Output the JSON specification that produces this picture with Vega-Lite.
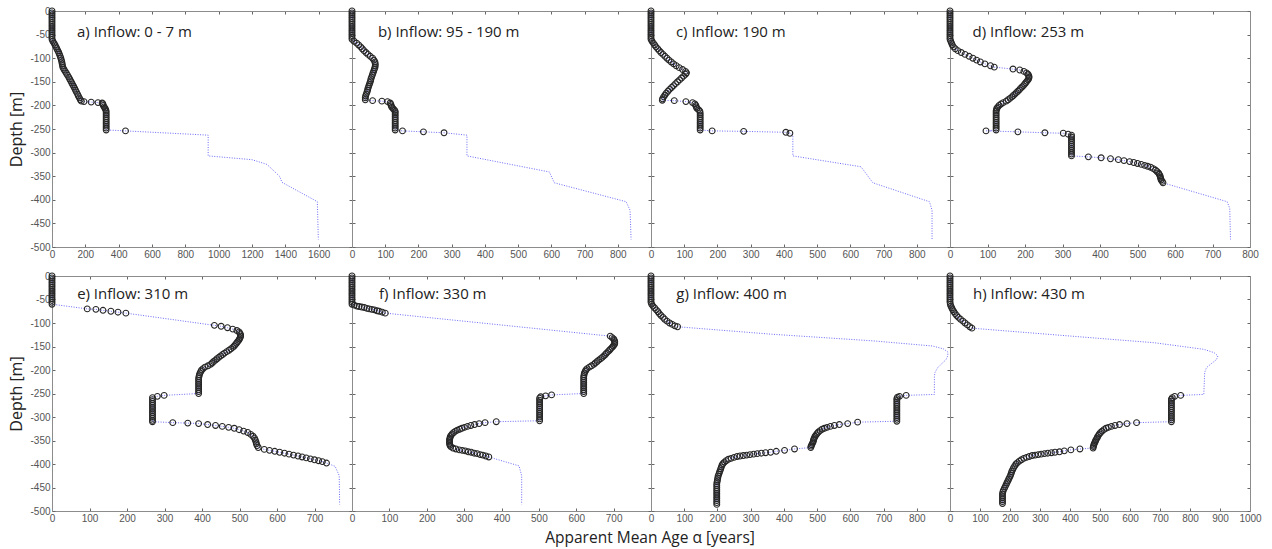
{
"$schema": "https://vega.github.io/schema/vega-lite/v6.json",
"background": "white",
"padding": {"left": 8, "top": 5, "right": 5, "bottom": 4},
"title": {"text": "Apparent Mean Age α [years]", "orient": "bottom", "anchor": "middle", "font": "Open Sans", "fontSize": 15.5, "fontWeight": "normal", "color": "#222", "offset": 8, "dx": 15},
"config": {
  "view": {"stroke": null},
  "axis": {"grid": false, "domainColor": "#8c8c8c", "tickColor": "#666", "labelColor": "#555", "labelFont": "Liberation Sans", "labelFontSize": 10, "tickSize": -3, "labelPadding": 5, "labelFlush": false, "labelOverlap": false, "titleFont": "Open Sans", "titleFontSize": 16, "titleFontWeight": "normal", "titleColor": "#222", "titlePadding": 5}
},
"datasets": {
"a": [{"d":0,"v":0,"o":1},{"d":-4,"v":0,"o":1},{"d":-8,"v":0,"o":1},{"d":-12,"v":0,"o":1},{"d":-16,"v":0,"o":1},{"d":-20,"v":0,"o":1},{"d":-24,"v":0,"o":1},{"d":-28,"v":0,"o":1},{"d":-32,"v":0,"o":1},{"d":-36,"v":0,"o":1},{"d":-40,"v":0,"o":1},{"d":-44,"v":0,"o":1},{"d":-48,"v":0,"o":1},{"d":-52,"v":0,"o":1},{"d":-56,"v":0,"o":1},{"d":-60,"v":0,"o":1},
{"d":-64,"v":5,"o":1},{"d":-68,"v":12,"o":1},{"d":-72,"v":18,"o":1},{"d":-76,"v":24,"o":1},{"d":-80,"v":29,"o":1},{"d":-84,"v":35,"o":1},{"d":-88,"v":40,"o":1},{"d":-92,"v":45,"o":1},{"d":-96,"v":49,"o":1},{"d":-100,"v":53,"o":1},{"d":-104,"v":56,"o":1},{"d":-108,"v":59,"o":1},{"d":-112,"v":61,"o":1},{"d":-116,"v":63,"o":1},{"d":-120,"v":66,"o":1},{"d":-124,"v":72,"o":1},{"d":-128,"v":79,"o":1},{"d":-132,"v":86,"o":1},{"d":-136,"v":93,"o":1},{"d":-140,"v":100,"o":1},{"d":-144,"v":106,"o":1},{"d":-148,"v":112,"o":1},{"d":-152,"v":118,"o":1},{"d":-156,"v":124,"o":1},{"d":-160,"v":130,"o":1},{"d":-164,"v":136,"o":1},{"d":-168,"v":141,"o":1},{"d":-172,"v":147,"o":1},{"d":-176,"v":153,"o":1},{"d":-180,"v":158,"o":1},{"d":-184,"v":164,"o":1},{"d":-188,"v":170,"o":1},{"d":-191,"v":176,"o":1},
{"d":-192,"v":192,"o":1},{"d":-193,"v":235,"o":1},{"d":-194,"v":276,"o":1},{"d":-195,"v":301,"o":1},{"d":-197,"v":305,"o":1},{"d":-200,"v":308,"o":1},{"d":-203,"v":312,"o":1},{"d":-206,"v":318,"o":1},{"d":-209,"v":322,"o":1},{"d":-212,"v":325,"o":1},{"d":-216,"v":325,"o":1},{"d":-220,"v":325,"o":1},{"d":-224,"v":325,"o":1},{"d":-228,"v":325,"o":1},{"d":-232,"v":325,"o":1},{"d":-236,"v":325,"o":1},{"d":-240,"v":325,"o":1},{"d":-244,"v":325,"o":1},{"d":-248,"v":325,"o":1},{"d":-252,"v":325,"o":1},{"d":-254,"v":441,"o":1},
{"d":-263,"v":937,"o":0},{"d":-307,"v":937,"o":0},{"d":-315,"v":1200,"o":0},{"d":-325,"v":1290,"o":0},{"d":-340,"v":1335,"o":0},{"d":-350,"v":1365,"o":0},{"d":-363,"v":1380,"o":0},{"d":-404,"v":1592,"o":0},{"d":-484,"v":1598,"o":0}],
"b": [{"d":0,"v":0,"o":1},{"d":-4,"v":0,"o":1},{"d":-8,"v":0,"o":1},{"d":-12,"v":0,"o":1},{"d":-16,"v":0,"o":1},{"d":-20,"v":0,"o":1},{"d":-24,"v":0,"o":1},{"d":-28,"v":0,"o":1},{"d":-32,"v":0,"o":1},{"d":-36,"v":0,"o":1},{"d":-40,"v":0,"o":1},{"d":-44,"v":0,"o":1},{"d":-48,"v":0,"o":1},{"d":-52,"v":0,"o":1},{"d":-56,"v":0,"o":1},{"d":-60,"v":0,"o":1},
{"d":-64,"v":6,"o":1},{"d":-68,"v":14,"o":1},{"d":-72,"v":20,"o":1},{"d":-76,"v":26,"o":1},{"d":-80,"v":31,"o":1},{"d":-84,"v":36,"o":1},{"d":-88,"v":42,"o":1},{"d":-92,"v":48,"o":1},{"d":-96,"v":55,"o":1},{"d":-100,"v":62,"o":1},{"d":-104,"v":66,"o":1},{"d":-108,"v":69,"o":1},{"d":-112,"v":70,"o":1},{"d":-116,"v":70,"o":1},{"d":-120,"v":69,"o":1},{"d":-124,"v":67,"o":1},{"d":-128,"v":65,"o":1},{"d":-132,"v":63,"o":1},{"d":-136,"v":61,"o":1},{"d":-140,"v":59,"o":1},{"d":-144,"v":57,"o":1},{"d":-148,"v":56,"o":1},{"d":-152,"v":54,"o":1},{"d":-156,"v":52,"o":1},{"d":-160,"v":50,"o":1},{"d":-164,"v":48,"o":1},{"d":-168,"v":47,"o":1},{"d":-172,"v":45,"o":1},{"d":-176,"v":43,"o":1},{"d":-180,"v":41,"o":1},{"d":-184,"v":40,"o":1},{"d":-188,"v":40,"o":1},
{"d":-190,"v":62,"o":1},{"d":-191,"v":90,"o":1},{"d":-192,"v":107,"o":1},{"d":-195,"v":115,"o":1},{"d":-198,"v":117,"o":1},{"d":-201,"v":118,"o":1},{"d":-204,"v":120,"o":1},{"d":-207,"v":124,"o":1},{"d":-210,"v":128,"o":1},{"d":-213,"v":130,"o":1},{"d":-216,"v":130,"o":1},{"d":-220,"v":130,"o":1},{"d":-224,"v":130,"o":1},{"d":-228,"v":130,"o":1},{"d":-232,"v":130,"o":1},{"d":-236,"v":130,"o":1},{"d":-240,"v":130,"o":1},{"d":-244,"v":130,"o":1},{"d":-248,"v":130,"o":1},{"d":-252,"v":130,"o":1},{"d":-254,"v":152,"o":1},{"d":-256,"v":215,"o":1},{"d":-258,"v":277,"o":1},
{"d":-263,"v":346,"o":0},{"d":-307,"v":346,"o":0},{"d":-341,"v":594,"o":0},{"d":-364,"v":609,"o":0},{"d":-404,"v":825,"o":0},{"d":-422,"v":837,"o":0},{"d":-484,"v":840,"o":0}],
"c": [{"d":0,"v":0,"o":1},{"d":-4,"v":0,"o":1},{"d":-8,"v":0,"o":1},{"d":-12,"v":0,"o":1},{"d":-16,"v":0,"o":1},{"d":-20,"v":0,"o":1},{"d":-24,"v":0,"o":1},{"d":-28,"v":0,"o":1},{"d":-32,"v":0,"o":1},{"d":-36,"v":0,"o":1},{"d":-40,"v":0,"o":1},{"d":-44,"v":0,"o":1},{"d":-48,"v":0,"o":1},{"d":-52,"v":0,"o":1},{"d":-56,"v":0,"o":1},{"d":-60,"v":0,"o":1},
{"d":-64,"v":3,"o":1},{"d":-68,"v":7,"o":1},{"d":-72,"v":11,"o":1},{"d":-76,"v":15,"o":1},{"d":-80,"v":20,"o":1},{"d":-84,"v":25,"o":1},{"d":-88,"v":30,"o":1},{"d":-92,"v":36,"o":1},{"d":-96,"v":42,"o":1},{"d":-100,"v":48,"o":1},{"d":-104,"v":54,"o":1},{"d":-108,"v":61,"o":1},{"d":-112,"v":68,"o":1},{"d":-116,"v":76,"o":1},{"d":-120,"v":85,"o":1},{"d":-124,"v":95,"o":1},{"d":-128,"v":104,"o":1},{"d":-131,"v":107,"o":1},{"d":-134,"v":104,"o":1},{"d":-138,"v":98,"o":1},{"d":-142,"v":92,"o":1},{"d":-146,"v":86,"o":1},{"d":-150,"v":80,"o":1},{"d":-154,"v":74,"o":1},{"d":-158,"v":68,"o":1},{"d":-162,"v":62,"o":1},{"d":-166,"v":56,"o":1},{"d":-170,"v":51,"o":1},{"d":-174,"v":46,"o":1},{"d":-178,"v":42,"o":1},{"d":-182,"v":38,"o":1},{"d":-186,"v":35,"o":1},{"d":-189,"v":34,"o":1},
{"d":-190,"v":70,"o":1},{"d":-192,"v":105,"o":1},{"d":-194,"v":125,"o":1},{"d":-197,"v":132,"o":1},{"d":-200,"v":135,"o":1},{"d":-203,"v":136,"o":1},{"d":-206,"v":138,"o":1},{"d":-209,"v":143,"o":1},{"d":-212,"v":147,"o":1},{"d":-216,"v":148,"o":1},{"d":-220,"v":148,"o":1},{"d":-224,"v":148,"o":1},{"d":-228,"v":148,"o":1},{"d":-232,"v":148,"o":1},{"d":-236,"v":148,"o":1},{"d":-240,"v":148,"o":1},{"d":-244,"v":148,"o":1},{"d":-248,"v":148,"o":1},{"d":-252,"v":148,"o":1},{"d":-254,"v":184,"o":1},{"d":-255,"v":279,"o":1},{"d":-257,"v":406,"o":1},{"d":-259,"v":418,"o":1},
{"d":-263,"v":427,"o":0},{"d":-307,"v":427,"o":0},{"d":-330,"v":632,"o":0},{"d":-364,"v":668,"o":0},{"d":-404,"v":838,"o":0},{"d":-422,"v":846,"o":0},{"d":-484,"v":846,"o":0}],
"d": [{"d":0,"v":0,"o":1},{"d":-4,"v":0,"o":1},{"d":-8,"v":0,"o":1},{"d":-12,"v":0,"o":1},{"d":-16,"v":0,"o":1},{"d":-20,"v":0,"o":1},{"d":-24,"v":0,"o":1},{"d":-28,"v":0,"o":1},{"d":-32,"v":0,"o":1},{"d":-36,"v":0,"o":1},{"d":-40,"v":0,"o":1},{"d":-44,"v":0,"o":1},{"d":-48,"v":0,"o":1},{"d":-52,"v":0,"o":1},{"d":-56,"v":0,"o":1},{"d":-60,"v":0,"o":1},
{"d":-64,"v":2,"o":1},{"d":-68,"v":4,"o":1},{"d":-72,"v":6,"o":1},{"d":-76,"v":9,"o":1},{"d":-80,"v":14,"o":1},{"d":-84,"v":21,"o":1},{"d":-88,"v":30,"o":1},{"d":-92,"v":40,"o":1},{"d":-96,"v":51,"o":1},{"d":-100,"v":61,"o":1},{"d":-104,"v":71,"o":1},{"d":-108,"v":81,"o":1},{"d":-112,"v":93,"o":1},{"d":-116,"v":108,"o":1},{"d":-119,"v":118,"o":1},{"d":-123,"v":168,"o":1},{"d":-125,"v":186,"o":1},{"d":-128,"v":197,"o":1},{"d":-131,"v":204,"o":1},{"d":-134,"v":208,"o":1},{"d":-137,"v":210,"o":1},{"d":-140,"v":211,"o":1},{"d":-143,"v":210,"o":1},{"d":-146,"v":208,"o":1},{"d":-149,"v":205,"o":1},{"d":-152,"v":202,"o":1},{"d":-155,"v":199,"o":1},{"d":-158,"v":196,"o":1},{"d":-161,"v":192,"o":1},{"d":-164,"v":188,"o":1},{"d":-167,"v":185,"o":1},{"d":-170,"v":181,"o":1},{"d":-173,"v":177,"o":1},{"d":-176,"v":173,"o":1},{"d":-179,"v":169,"o":1},{"d":-182,"v":165,"o":1},{"d":-185,"v":160,"o":1},{"d":-188,"v":155,"o":1},{"d":-191,"v":150,"o":1},{"d":-194,"v":142,"o":1},{"d":-197,"v":136,"o":1},{"d":-200,"v":131,"o":1},{"d":-203,"v":128,"o":1},{"d":-206,"v":125,"o":1},{"d":-209,"v":124,"o":1},{"d":-212,"v":123,"o":1},{"d":-216,"v":123,"o":1},{"d":-220,"v":123,"o":1},{"d":-224,"v":123,"o":1},{"d":-228,"v":123,"o":1},{"d":-232,"v":123,"o":1},{"d":-236,"v":123,"o":1},{"d":-240,"v":123,"o":1},{"d":-244,"v":123,"o":1},{"d":-248,"v":123,"o":1},{"d":-252,"v":123,"o":1},
{"d":-254,"v":96,"o":1},{"d":-256,"v":181,"o":1},{"d":-258,"v":253,"o":1},{"d":-259,"v":302,"o":1},{"d":-261,"v":315,"o":1},{"d":-263,"v":324,"o":1},{"d":-267,"v":324,"o":1},{"d":-271,"v":324,"o":1},{"d":-275,"v":324,"o":1},{"d":-279,"v":324,"o":1},{"d":-283,"v":324,"o":1},{"d":-287,"v":324,"o":1},{"d":-291,"v":324,"o":1},{"d":-295,"v":324,"o":1},{"d":-299,"v":324,"o":1},{"d":-303,"v":324,"o":1},{"d":-307,"v":324,"o":1},
{"d":-309,"v":369,"o":1},{"d":-311,"v":403,"o":1},{"d":-313,"v":428,"o":1},{"d":-315,"v":449,"o":1},{"d":-317,"v":464,"o":1},{"d":-319,"v":479,"o":1},{"d":-321,"v":490,"o":1},{"d":-323,"v":500,"o":1},{"d":-325,"v":510,"o":1},{"d":-327,"v":519,"o":1},{"d":-329,"v":527,"o":1},{"d":-331,"v":535,"o":1},{"d":-334,"v":542,"o":1},{"d":-337,"v":548,"o":1},{"d":-340,"v":552,"o":1},{"d":-343,"v":556,"o":1},{"d":-346,"v":558,"o":1},{"d":-349,"v":560,"o":1},{"d":-352,"v":561,"o":1},{"d":-355,"v":562,"o":1},{"d":-358,"v":563,"o":1},{"d":-361,"v":566,"o":1},{"d":-364,"v":568,"o":1},
{"d":-404,"v":739,"o":0},{"d":-418,"v":746,"o":0},{"d":-484,"v":748,"o":0}],
"e": [{"d":0,"v":0,"o":1},{"d":-4,"v":0,"o":1},{"d":-8,"v":0,"o":1},{"d":-12,"v":0,"o":1},{"d":-16,"v":0,"o":1},{"d":-20,"v":0,"o":1},{"d":-24,"v":0,"o":1},{"d":-28,"v":0,"o":1},{"d":-32,"v":0,"o":1},{"d":-36,"v":0,"o":1},{"d":-40,"v":0,"o":1},{"d":-44,"v":0,"o":1},{"d":-48,"v":0,"o":1},{"d":-52,"v":0,"o":1},{"d":-56,"v":0,"o":1},{"d":-60,"v":0,"o":1},
{"d":-70,"v":94,"o":1},{"d":-71,"v":117,"o":1},{"d":-73,"v":136,"o":1},{"d":-75,"v":157,"o":1},{"d":-77,"v":176,"o":1},{"d":-79,"v":197,"o":1},
{"d":-105,"v":433,"o":1},{"d":-107,"v":451,"o":1},{"d":-110,"v":468,"o":1},{"d":-113,"v":482,"o":1},{"d":-116,"v":493,"o":1},{"d":-119,"v":499,"o":1},{"d":-122,"v":501,"o":1},{"d":-125,"v":503,"o":1},{"d":-128,"v":503,"o":1},{"d":-131,"v":502,"o":1},{"d":-134,"v":500,"o":1},{"d":-137,"v":498,"o":1},{"d":-140,"v":495,"o":1},{"d":-143,"v":492,"o":1},{"d":-146,"v":489,"o":1},{"d":-149,"v":486,"o":1},{"d":-152,"v":482,"o":1},{"d":-155,"v":477,"o":1},{"d":-158,"v":472,"o":1},{"d":-161,"v":466,"o":1},{"d":-164,"v":460,"o":1},{"d":-167,"v":455,"o":1},{"d":-170,"v":450,"o":1},{"d":-173,"v":445,"o":1},{"d":-176,"v":440,"o":1},{"d":-179,"v":436,"o":1},{"d":-182,"v":431,"o":1},{"d":-185,"v":427,"o":1},{"d":-188,"v":423,"o":1},{"d":-191,"v":416,"o":1},{"d":-194,"v":408,"o":1},{"d":-197,"v":403,"o":1},{"d":-200,"v":399,"o":1},{"d":-203,"v":397,"o":1},{"d":-206,"v":395,"o":1},{"d":-210,"v":393,"o":1},{"d":-214,"v":392,"o":1},{"d":-218,"v":391,"o":1},{"d":-222,"v":391,"o":1},{"d":-226,"v":391,"o":1},{"d":-230,"v":391,"o":1},{"d":-234,"v":391,"o":1},{"d":-238,"v":391,"o":1},{"d":-242,"v":391,"o":1},{"d":-246,"v":391,"o":1},{"d":-250,"v":391,"o":1},
{"d":-254,"v":299,"o":1},{"d":-256,"v":281,"o":1},{"d":-259,"v":268,"o":1},{"d":-263,"v":268,"o":1},{"d":-267,"v":268,"o":1},{"d":-271,"v":268,"o":1},{"d":-275,"v":268,"o":1},{"d":-279,"v":268,"o":1},{"d":-283,"v":268,"o":1},{"d":-287,"v":268,"o":1},{"d":-291,"v":268,"o":1},{"d":-295,"v":268,"o":1},{"d":-299,"v":268,"o":1},{"d":-303,"v":268,"o":1},{"d":-307,"v":268,"o":1},{"d":-310,"v":268,"o":1},
{"d":-312,"v":322,"o":1},{"d":-313,"v":362,"o":1},{"d":-314,"v":391,"o":1},{"d":-316,"v":415,"o":1},{"d":-318,"v":436,"o":1},{"d":-320,"v":454,"o":1},{"d":-322,"v":471,"o":1},{"d":-324,"v":486,"o":1},{"d":-327,"v":499,"o":1},{"d":-330,"v":511,"o":1},{"d":-333,"v":522,"o":1},{"d":-337,"v":530,"o":1},{"d":-341,"v":536,"o":1},{"d":-345,"v":540,"o":1},{"d":-349,"v":542,"o":1},{"d":-353,"v":544,"o":1},{"d":-357,"v":545,"o":1},{"d":-361,"v":547,"o":1},{"d":-365,"v":550,"o":1},
{"d":-369,"v":566,"o":1},{"d":-371,"v":580,"o":1},{"d":-373,"v":594,"o":1},{"d":-375,"v":607,"o":1},{"d":-377,"v":620,"o":1},{"d":-379,"v":632,"o":1},{"d":-381,"v":644,"o":1},{"d":-383,"v":656,"o":1},{"d":-385,"v":667,"o":1},{"d":-387,"v":678,"o":1},{"d":-389,"v":689,"o":1},{"d":-391,"v":700,"o":1},{"d":-393,"v":711,"o":1},{"d":-395,"v":721,"o":1},{"d":-398,"v":732,"o":1},
{"d":-405,"v":755,"o":0},{"d":-425,"v":766,"o":0},{"d":-486,"v":767,"o":0}],
"f": [{"d":0,"v":0,"o":1},{"d":-4,"v":0,"o":1},{"d":-8,"v":0,"o":1},{"d":-12,"v":0,"o":1},{"d":-16,"v":0,"o":1},{"d":-20,"v":0,"o":1},{"d":-24,"v":0,"o":1},{"d":-28,"v":0,"o":1},{"d":-32,"v":0,"o":1},{"d":-36,"v":0,"o":1},{"d":-40,"v":0,"o":1},{"d":-44,"v":0,"o":1},{"d":-48,"v":0,"o":1},{"d":-52,"v":0,"o":1},{"d":-56,"v":0,"o":1},{"d":-60,"v":0,"o":1},
{"d":-62,"v":6,"o":1},{"d":-64,"v":13,"o":1},{"d":-65,"v":19,"o":1},{"d":-66,"v":26,"o":1},{"d":-67,"v":33,"o":1},{"d":-69,"v":40,"o":1},{"d":-70,"v":46,"o":1},{"d":-71,"v":53,"o":1},{"d":-72,"v":60,"o":1},{"d":-74,"v":67,"o":1},{"d":-75,"v":73,"o":1},{"d":-77,"v":81,"o":1},{"d":-79,"v":89,"o":1},
{"d":-128,"v":691,"o":1},{"d":-131,"v":696,"o":1},{"d":-134,"v":700,"o":1},{"d":-137,"v":702,"o":1},{"d":-140,"v":703,"o":1},{"d":-143,"v":703,"o":1},{"d":-146,"v":702,"o":1},{"d":-149,"v":699,"o":1},{"d":-152,"v":696,"o":1},{"d":-155,"v":692,"o":1},{"d":-158,"v":689,"o":1},{"d":-161,"v":685,"o":1},{"d":-164,"v":681,"o":1},{"d":-167,"v":678,"o":1},{"d":-170,"v":674,"o":1},{"d":-173,"v":670,"o":1},{"d":-176,"v":665,"o":1},{"d":-179,"v":660,"o":1},{"d":-182,"v":656,"o":1},{"d":-185,"v":651,"o":1},{"d":-188,"v":647,"o":1},{"d":-191,"v":641,"o":1},{"d":-194,"v":635,"o":1},{"d":-197,"v":629,"o":1},{"d":-200,"v":626,"o":1},{"d":-203,"v":624,"o":1},{"d":-206,"v":622,"o":1},{"d":-210,"v":621,"o":1},{"d":-214,"v":620,"o":1},{"d":-218,"v":620,"o":1},{"d":-222,"v":620,"o":1},{"d":-226,"v":620,"o":1},{"d":-230,"v":620,"o":1},{"d":-234,"v":620,"o":1},{"d":-238,"v":620,"o":1},{"d":-242,"v":620,"o":1},{"d":-246,"v":620,"o":1},{"d":-250,"v":620,"o":1},
{"d":-253,"v":534,"o":1},{"d":-255,"v":518,"o":1},{"d":-257,"v":505,"o":1},{"d":-260,"v":502,"o":1},{"d":-264,"v":502,"o":1},{"d":-268,"v":502,"o":1},{"d":-272,"v":502,"o":1},{"d":-276,"v":502,"o":1},{"d":-280,"v":502,"o":1},{"d":-284,"v":502,"o":1},{"d":-288,"v":502,"o":1},{"d":-292,"v":502,"o":1},{"d":-296,"v":502,"o":1},{"d":-300,"v":502,"o":1},{"d":-304,"v":502,"o":1},{"d":-308,"v":502,"o":1},
{"d":-310,"v":386,"o":1},{"d":-312,"v":356,"o":1},{"d":-314,"v":340,"o":1},{"d":-316,"v":328,"o":1},{"d":-318,"v":318,"o":1},{"d":-320,"v":309,"o":1},{"d":-322,"v":301,"o":1},{"d":-324,"v":294,"o":1},{"d":-326,"v":288,"o":1},{"d":-328,"v":282,"o":1},{"d":-330,"v":277,"o":1},{"d":-333,"v":272,"o":1},{"d":-336,"v":268,"o":1},{"d":-339,"v":265,"o":1},{"d":-342,"v":263,"o":1},{"d":-345,"v":262,"o":1},{"d":-348,"v":261,"o":1},{"d":-351,"v":261,"o":1},{"d":-354,"v":261,"o":1},{"d":-357,"v":261,"o":1},{"d":-360,"v":262,"o":1},{"d":-363,"v":264,"o":1},{"d":-366,"v":270,"o":1},{"d":-368,"v":278,"o":1},{"d":-370,"v":287,"o":1},{"d":-371,"v":295,"o":1},{"d":-372,"v":303,"o":1},{"d":-374,"v":311,"o":1},{"d":-375,"v":319,"o":1},{"d":-377,"v":327,"o":1},{"d":-378,"v":335,"o":1},{"d":-380,"v":343,"o":1},{"d":-381,"v":350,"o":1},{"d":-383,"v":358,"o":1},{"d":-385,"v":366,"o":1},
{"d":-404,"v":447,"o":0},{"d":-425,"v":454,"o":0},{"d":-486,"v":454,"o":0}],
"g": [{"d":0,"v":0,"o":1},{"d":-4,"v":0,"o":1},{"d":-8,"v":0,"o":1},{"d":-12,"v":0,"o":1},{"d":-16,"v":0,"o":1},{"d":-20,"v":0,"o":1},{"d":-24,"v":0,"o":1},{"d":-28,"v":0,"o":1},{"d":-32,"v":0,"o":1},{"d":-36,"v":0,"o":1},{"d":-40,"v":0,"o":1},{"d":-44,"v":0,"o":1},{"d":-48,"v":0,"o":1},{"d":-52,"v":0,"o":1},{"d":-56,"v":0,"o":1},
{"d":-60,"v":2,"o":1},{"d":-64,"v":6,"o":1},{"d":-68,"v":11,"o":1},{"d":-72,"v":16,"o":1},{"d":-76,"v":21,"o":1},{"d":-80,"v":25,"o":1},{"d":-84,"v":30,"o":1},{"d":-88,"v":36,"o":1},{"d":-92,"v":41,"o":1},{"d":-96,"v":48,"o":1},{"d":-100,"v":56,"o":1},{"d":-103,"v":64,"o":1},{"d":-106,"v":72,"o":1},{"d":-108,"v":80,"o":1},
{"d":-124,"v":366,"o":0},{"d":-138,"v":668,"o":0},{"d":-149,"v":848,"o":0},{"d":-155,"v":880,"o":0},{"d":-162,"v":894,"o":0},{"d":-170,"v":893,"o":0},{"d":-178,"v":888,"o":0},{"d":-190,"v":870,"o":0},{"d":-195,"v":863,"o":0},{"d":-205,"v":855,"o":0},{"d":-213,"v":853,"o":0},{"d":-252,"v":853,"o":0},
{"d":-254,"v":768,"o":1},{"d":-256,"v":748,"o":1},{"d":-258,"v":742,"o":1},{"d":-261,"v":740,"o":1},{"d":-265,"v":740,"o":1},{"d":-269,"v":740,"o":1},{"d":-273,"v":740,"o":1},{"d":-277,"v":740,"o":1},{"d":-281,"v":740,"o":1},{"d":-285,"v":740,"o":1},{"d":-289,"v":740,"o":1},{"d":-293,"v":740,"o":1},{"d":-297,"v":740,"o":1},{"d":-301,"v":740,"o":1},{"d":-305,"v":740,"o":1},{"d":-309,"v":740,"o":1},
{"d":-311,"v":622,"o":1},{"d":-314,"v":592,"o":1},{"d":-316,"v":567,"o":1},{"d":-318,"v":552,"o":1},{"d":-320,"v":540,"o":1},{"d":-322,"v":530,"o":1},{"d":-324,"v":522,"o":1},{"d":-326,"v":515,"o":1},{"d":-329,"v":509,"o":1},{"d":-332,"v":504,"o":1},{"d":-335,"v":500,"o":1},{"d":-338,"v":497,"o":1},{"d":-341,"v":494,"o":1},{"d":-344,"v":492,"o":1},{"d":-347,"v":490,"o":1},{"d":-350,"v":489,"o":1},{"d":-353,"v":488,"o":1},{"d":-356,"v":486,"o":1},{"d":-359,"v":484,"o":1},{"d":-362,"v":482,"o":1},{"d":-365,"v":481,"o":1},
{"d":-368,"v":432,"o":1},{"d":-371,"v":402,"o":1},{"d":-373,"v":377,"o":1},{"d":-375,"v":360,"o":1},{"d":-376,"v":345,"o":1},{"d":-377,"v":332,"o":1},{"d":-378,"v":320,"o":1},{"d":-379,"v":309,"o":1},{"d":-380,"v":298,"o":1},{"d":-381,"v":288,"o":1},{"d":-382,"v":278,"o":1},{"d":-383,"v":268,"o":1},{"d":-384,"v":259,"o":1},{"d":-386,"v":250,"o":1},{"d":-388,"v":241,"o":1},{"d":-390,"v":233,"o":1},{"d":-393,"v":226,"o":1},{"d":-396,"v":221,"o":1},{"d":-399,"v":217,"o":1},{"d":-402,"v":214,"o":1},{"d":-406,"v":212,"o":1},{"d":-410,"v":210,"o":1},{"d":-414,"v":208,"o":1},{"d":-418,"v":206,"o":1},{"d":-422,"v":204,"o":1},{"d":-426,"v":202,"o":1},{"d":-430,"v":201,"o":1},{"d":-434,"v":200,"o":1},{"d":-438,"v":199,"o":1},{"d":-442,"v":198,"o":1},{"d":-446,"v":198,"o":1},{"d":-450,"v":198,"o":1},{"d":-454,"v":198,"o":1},{"d":-458,"v":198,"o":1},{"d":-462,"v":198,"o":1},{"d":-466,"v":198,"o":1},{"d":-470,"v":198,"o":1},{"d":-474,"v":198,"o":1},{"d":-478,"v":198,"o":1},{"d":-482,"v":198,"o":1},{"d":-486,"v":198,"o":1}],
"h": [{"d":0,"v":0,"o":1},{"d":-4,"v":0,"o":1},{"d":-8,"v":0,"o":1},{"d":-12,"v":0,"o":1},{"d":-16,"v":0,"o":1},{"d":-20,"v":0,"o":1},{"d":-24,"v":0,"o":1},{"d":-28,"v":0,"o":1},{"d":-32,"v":0,"o":1},{"d":-36,"v":0,"o":1},{"d":-40,"v":0,"o":1},{"d":-44,"v":0,"o":1},{"d":-48,"v":0,"o":1},{"d":-52,"v":0,"o":1},{"d":-56,"v":0,"o":1},
{"d":-60,"v":1,"o":1},{"d":-64,"v":3,"o":1},{"d":-68,"v":6,"o":1},{"d":-72,"v":9,"o":1},{"d":-76,"v":13,"o":1},{"d":-80,"v":17,"o":1},{"d":-84,"v":22,"o":1},{"d":-88,"v":28,"o":1},{"d":-92,"v":35,"o":1},{"d":-96,"v":43,"o":1},{"d":-100,"v":50,"o":1},{"d":-104,"v":58,"o":1},{"d":-108,"v":66,"o":1},{"d":-111,"v":73,"o":1},
{"d":-128,"v":405,"o":0},{"d":-142,"v":681,"o":0},{"d":-156,"v":846,"o":0},{"d":-163,"v":880,"o":0},{"d":-170,"v":893,"o":0},{"d":-178,"v":888,"o":0},{"d":-186,"v":872,"o":0},{"d":-195,"v":855,"o":0},{"d":-205,"v":849,"o":0},{"d":-252,"v":846,"o":0},
{"d":-254,"v":769,"o":1},{"d":-256,"v":749,"o":1},{"d":-259,"v":741,"o":1},{"d":-262,"v":738,"o":1},{"d":-266,"v":738,"o":1},{"d":-270,"v":738,"o":1},{"d":-274,"v":738,"o":1},{"d":-278,"v":738,"o":1},{"d":-282,"v":738,"o":1},{"d":-286,"v":738,"o":1},{"d":-290,"v":738,"o":1},{"d":-294,"v":738,"o":1},{"d":-298,"v":738,"o":1},{"d":-302,"v":738,"o":1},{"d":-306,"v":738,"o":1},{"d":-310,"v":738,"o":1},
{"d":-312,"v":622,"o":1},{"d":-314,"v":590,"o":1},{"d":-316,"v":565,"o":1},{"d":-318,"v":550,"o":1},{"d":-320,"v":538,"o":1},{"d":-322,"v":528,"o":1},{"d":-324,"v":520,"o":1},{"d":-327,"v":513,"o":1},{"d":-330,"v":507,"o":1},{"d":-333,"v":502,"o":1},{"d":-336,"v":498,"o":1},{"d":-339,"v":495,"o":1},{"d":-342,"v":492,"o":1},{"d":-345,"v":490,"o":1},{"d":-348,"v":487,"o":1},{"d":-351,"v":485,"o":1},{"d":-354,"v":483,"o":1},{"d":-357,"v":481,"o":1},{"d":-360,"v":479,"o":1},{"d":-363,"v":478,"o":1},{"d":-366,"v":477,"o":1},
{"d":-368,"v":433,"o":1},{"d":-370,"v":403,"o":1},{"d":-372,"v":381,"o":1},{"d":-374,"v":365,"o":1},{"d":-375,"v":350,"o":1},{"d":-376,"v":338,"o":1},{"d":-377,"v":326,"o":1},{"d":-378,"v":315,"o":1},{"d":-379,"v":304,"o":1},{"d":-380,"v":294,"o":1},{"d":-381,"v":284,"o":1},{"d":-382,"v":274,"o":1},{"d":-384,"v":264,"o":1},{"d":-386,"v":255,"o":1},{"d":-388,"v":246,"o":1},{"d":-391,"v":238,"o":1},{"d":-394,"v":231,"o":1},{"d":-397,"v":225,"o":1},{"d":-400,"v":220,"o":1},{"d":-404,"v":216,"o":1},{"d":-408,"v":212,"o":1},{"d":-412,"v":209,"o":1},{"d":-416,"v":206,"o":1},{"d":-420,"v":204,"o":1},{"d":-424,"v":202,"o":1},{"d":-428,"v":199,"o":1},{"d":-432,"v":196,"o":1},{"d":-436,"v":193,"o":1},{"d":-440,"v":190,"o":1},{"d":-444,"v":187,"o":1},{"d":-448,"v":184,"o":1},{"d":-452,"v":181,"o":1},{"d":-456,"v":178,"o":1},{"d":-460,"v":176,"o":1},{"d":-464,"v":175,"o":1},{"d":-468,"v":175,"o":1},{"d":-472,"v":175,"o":1},{"d":-476,"v":175,"o":1},{"d":-480,"v":175,"o":1},{"d":-484,"v":175,"o":1}]
},
"spacing": 11,
"vconcat": [
{"bounds": "flush", "spacing": 0, "hconcat": [
 {"width": 300, "height": 236, "data": {"name": "a"}, "layer": [
  {"mark": {"type": "line", "stroke": "#5a5af5", "strokeWidth": 0.9, "strokeDash": [1, 1.5]}, "encoding": {
    "x": {"field": "v", "type": "quantitative", "scale": {"domain": [0, 1800], "nice": false, "zero": false}, "axis": {"orient": "bottom", "values": [0,200,400,600,800,1000,1200,1400,1600], "labelExpr": "'' + datum.value", "title": null}},
    "y": {"field": "d", "type": "quantitative", "scale": {"domain": [-500, 0], "nice": false, "zero": false}, "axis": {"orient": "left", "values": [0,-50,-100,-150,-200,-250,-300,-350,-400,-450,-500], "labelExpr": "'' + datum.value", "title": "Depth [m]"}},
    "order": {"field": "d", "sort": "descending"}}},
  {"transform": [{"filter": "datum.o == 1"}], "mark": {"type": "point", "shape": "circle", "filled": false, "stroke": "#262626", "strokeWidth": 1.05, "size": 34, "opacity": 1}, "encoding": {
    "x": {"field": "v", "type": "quantitative", "axis": {"orient": "top", "values": [0,200,400,600,800,1000,1200,1400,1600], "labels": false, "title": null}},
    "y": {"field": "d", "type": "quantitative", "axis": {"orient": "right", "values": [0,-50,-100,-150,-200,-250,-300,-350,-400,-450,-500], "labels": false, "title": null}}}},
  {"data": {"values": [{"t": "a) Inflow: 0 - 7 m"}]}, "mark": {"type": "text", "align": "left", "baseline": "middle", "font": "Open Sans", "fontSize": 15, "color": "#222"}, "encoding": {
    "x": {"datum": 150, "type": "quantitative", "axis": null}, "y": {"datum": -44, "type": "quantitative", "axis": null}, "text": {"field": "t"}}}
 ], "resolve": {"axis": {"x": "independent", "y": "independent"}}},
 {"width": 299, "height": 236, "data": {"name": "b"}, "layer": [
  {"mark": {"type": "line", "stroke": "#5a5af5", "strokeWidth": 0.9, "strokeDash": [1, 1.5]}, "encoding": {
    "x": {"field": "v", "type": "quantitative", "scale": {"domain": [0, 900], "nice": false, "zero": false}, "axis": {"orient": "bottom", "values": [0,100,200,300,400,500,600,700,800], "labelExpr": "'' + datum.value", "title": null}},
    "y": {"field": "d", "type": "quantitative", "scale": {"domain": [-500, 0], "nice": false, "zero": false}, "axis": {"orient": "left", "values": [0,-50,-100,-150,-200,-250,-300,-350,-400,-450,-500], "labels": false, "title": null}},
    "order": {"field": "d", "sort": "descending"}}},
  {"transform": [{"filter": "datum.o == 1"}], "mark": {"type": "point", "shape": "circle", "filled": false, "stroke": "#262626", "strokeWidth": 1.05, "size": 34, "opacity": 1}, "encoding": {
    "x": {"field": "v", "type": "quantitative", "axis": {"orient": "top", "values": [0,100,200,300,400,500,600,700,800], "labels": false, "title": null}},
    "y": {"field": "d", "type": "quantitative", "axis": {"orient": "right", "values": [0,-50,-100,-150,-200,-250,-300,-350,-400,-450,-500], "labels": false, "title": null}}}},
  {"data": {"values": [{"t": "b) Inflow: 95 - 190 m"}]}, "mark": {"type": "text", "align": "left", "baseline": "middle", "font": "Open Sans", "fontSize": 15, "color": "#222"}, "encoding": {
    "x": {"datum": 78, "type": "quantitative", "axis": null}, "y": {"datum": -44, "type": "quantitative", "axis": null}, "text": {"field": "t"}}}
 ], "resolve": {"axis": {"x": "independent", "y": "independent"}}},
 {"width": 299, "height": 236, "data": {"name": "c"}, "layer": [
  {"mark": {"type": "line", "stroke": "#5a5af5", "strokeWidth": 0.9, "strokeDash": [1, 1.5]}, "encoding": {
    "x": {"field": "v", "type": "quantitative", "scale": {"domain": [0, 900], "nice": false, "zero": false}, "axis": {"orient": "bottom", "values": [0,100,200,300,400,500,600,700,800], "labelExpr": "'' + datum.value", "title": null}},
    "y": {"field": "d", "type": "quantitative", "scale": {"domain": [-500, 0], "nice": false, "zero": false}, "axis": {"orient": "left", "values": [0,-50,-100,-150,-200,-250,-300,-350,-400,-450,-500], "labels": false, "title": null}},
    "order": {"field": "d", "sort": "descending"}}},
  {"transform": [{"filter": "datum.o == 1"}], "mark": {"type": "point", "shape": "circle", "filled": false, "stroke": "#262626", "strokeWidth": 1.05, "size": 34, "opacity": 1}, "encoding": {
    "x": {"field": "v", "type": "quantitative", "axis": {"orient": "top", "values": [0,100,200,300,400,500,600,700,800], "labels": false, "title": null}},
    "y": {"field": "d", "type": "quantitative", "axis": {"orient": "right", "values": [0,-50,-100,-150,-200,-250,-300,-350,-400,-450,-500], "labels": false, "title": null}}}},
  {"data": {"values": [{"t": "c) Inflow: 190 m"}]}, "mark": {"type": "text", "align": "left", "baseline": "middle", "font": "Open Sans", "fontSize": 15, "color": "#222"}, "encoding": {
    "x": {"datum": 75, "type": "quantitative", "axis": null}, "y": {"datum": -44, "type": "quantitative", "axis": null}, "text": {"field": "t"}}}
 ], "resolve": {"axis": {"x": "independent", "y": "independent"}}},
 {"width": 300, "height": 236, "data": {"name": "d"}, "layer": [
  {"mark": {"type": "line", "stroke": "#5a5af5", "strokeWidth": 0.9, "strokeDash": [1, 1.5]}, "encoding": {
    "x": {"field": "v", "type": "quantitative", "scale": {"domain": [0, 800], "nice": false, "zero": false}, "axis": {"orient": "bottom", "values": [0,100,200,300,400,500,600,700,800], "labelExpr": "'' + datum.value", "title": null}},
    "y": {"field": "d", "type": "quantitative", "scale": {"domain": [-500, 0], "nice": false, "zero": false}, "axis": {"orient": "left", "values": [0,-50,-100,-150,-200,-250,-300,-350,-400,-450,-500], "labels": false, "title": null}},
    "order": {"field": "d", "sort": "descending"}}},
  {"transform": [{"filter": "datum.o == 1"}], "mark": {"type": "point", "shape": "circle", "filled": false, "stroke": "#262626", "strokeWidth": 1.05, "size": 34, "opacity": 1}, "encoding": {
    "x": {"field": "v", "type": "quantitative", "axis": {"orient": "top", "values": [0,100,200,300,400,500,600,700,800], "labels": false, "title": null}},
    "y": {"field": "d", "type": "quantitative", "axis": {"orient": "right", "values": [0,-50,-100,-150,-200,-250,-300,-350,-400,-450,-500], "labels": false, "title": null}}}},
  {"data": {"values": [{"t": "d) Inflow: 253 m"}]}, "mark": {"type": "text", "align": "left", "baseline": "middle", "font": "Open Sans", "fontSize": 15, "color": "#222"}, "encoding": {
    "x": {"datum": 60, "type": "quantitative", "axis": null}, "y": {"datum": -44, "type": "quantitative", "axis": null}, "text": {"field": "t"}}}
 ], "resolve": {"axis": {"x": "independent", "y": "independent"}}}
]},
{"bounds": "flush", "spacing": 0, "hconcat": [
 {"width": 300, "height": 235, "data": {"name": "e"}, "layer": [
  {"mark": {"type": "line", "stroke": "#5a5af5", "strokeWidth": 0.9, "strokeDash": [1, 1.5]}, "encoding": {
    "x": {"field": "v", "type": "quantitative", "scale": {"domain": [0, 800], "nice": false, "zero": false}, "axis": {"orient": "bottom", "values": [0,100,200,300,400,500,600,700], "labelExpr": "'' + datum.value", "title": null}},
    "y": {"field": "d", "type": "quantitative", "scale": {"domain": [-500, 0], "nice": false, "zero": false}, "axis": {"orient": "left", "values": [0,-50,-100,-150,-200,-250,-300,-350,-400,-450,-500], "labelExpr": "'' + datum.value", "title": "Depth [m]"}},
    "order": {"field": "d", "sort": "descending"}}},
  {"transform": [{"filter": "datum.o == 1"}], "mark": {"type": "point", "shape": "circle", "filled": false, "stroke": "#262626", "strokeWidth": 1.05, "size": 34, "opacity": 1}, "encoding": {
    "x": {"field": "v", "type": "quantitative", "axis": {"orient": "top", "values": [0,100,200,300,400,500,600,700], "labels": false, "title": null}},
    "y": {"field": "d", "type": "quantitative", "axis": {"orient": "right", "values": [0,-50,-100,-150,-200,-250,-300,-350,-400,-450,-500], "labels": false, "title": null}}}},
  {"data": {"values": [{"t": "e) Inflow: 310 m"}]}, "mark": {"type": "text", "align": "left", "baseline": "middle", "font": "Open Sans", "fontSize": 15, "color": "#222"}, "encoding": {
    "x": {"datum": 67, "type": "quantitative", "axis": null}, "y": {"datum": -39, "type": "quantitative", "axis": null}, "text": {"field": "t"}}}
 ], "resolve": {"axis": {"x": "independent", "y": "independent"}}},
 {"width": 299, "height": 235, "data": {"name": "f"}, "layer": [
  {"mark": {"type": "line", "stroke": "#5a5af5", "strokeWidth": 0.9, "strokeDash": [1, 1.5]}, "encoding": {
    "x": {"field": "v", "type": "quantitative", "scale": {"domain": [0, 800], "nice": false, "zero": false}, "axis": {"orient": "bottom", "values": [0,100,200,300,400,500,600,700], "labelExpr": "'' + datum.value", "title": null}},
    "y": {"field": "d", "type": "quantitative", "scale": {"domain": [-500, 0], "nice": false, "zero": false}, "axis": {"orient": "left", "values": [0,-50,-100,-150,-200,-250,-300,-350,-400,-450,-500], "labels": false, "title": null}},
    "order": {"field": "d", "sort": "descending"}}},
  {"transform": [{"filter": "datum.o == 1"}], "mark": {"type": "point", "shape": "circle", "filled": false, "stroke": "#262626", "strokeWidth": 1.05, "size": 34, "opacity": 1}, "encoding": {
    "x": {"field": "v", "type": "quantitative", "axis": {"orient": "top", "values": [0,100,200,300,400,500,600,700], "labels": false, "title": null}},
    "y": {"field": "d", "type": "quantitative", "axis": {"orient": "right", "values": [0,-50,-100,-150,-200,-250,-300,-350,-400,-450,-500], "labels": false, "title": null}}}},
  {"data": {"values": [{"t": "f) Inflow: 330 m"}]}, "mark": {"type": "text", "align": "left", "baseline": "middle", "font": "Open Sans", "fontSize": 15, "color": "#222"}, "encoding": {
    "x": {"datum": 72, "type": "quantitative", "axis": null}, "y": {"datum": -39, "type": "quantitative", "axis": null}, "text": {"field": "t"}}}
 ], "resolve": {"axis": {"x": "independent", "y": "independent"}}},
 {"width": 299, "height": 235, "data": {"name": "g"}, "layer": [
  {"mark": {"type": "line", "stroke": "#5a5af5", "strokeWidth": 0.9, "strokeDash": [1, 1.5]}, "encoding": {
    "x": {"field": "v", "type": "quantitative", "scale": {"domain": [0, 900], "nice": false, "zero": false}, "axis": {"orient": "bottom", "values": [0,100,200,300,400,500,600,700,800], "labelExpr": "'' + datum.value", "title": null}},
    "y": {"field": "d", "type": "quantitative", "scale": {"domain": [-500, 0], "nice": false, "zero": false}, "axis": {"orient": "left", "values": [0,-50,-100,-150,-200,-250,-300,-350,-400,-450,-500], "labels": false, "title": null}},
    "order": {"field": "d", "sort": "descending"}}},
  {"transform": [{"filter": "datum.o == 1"}], "mark": {"type": "point", "shape": "circle", "filled": false, "stroke": "#262626", "strokeWidth": 1.05, "size": 34, "opacity": 1}, "encoding": {
    "x": {"field": "v", "type": "quantitative", "axis": {"orient": "top", "values": [0,100,200,300,400,500,600,700,800], "labels": false, "title": null}},
    "y": {"field": "d", "type": "quantitative", "axis": {"orient": "right", "values": [0,-50,-100,-150,-200,-250,-300,-350,-400,-450,-500], "labels": false, "title": null}}}},
  {"data": {"values": [{"t": "g) Inflow: 400 m"}]}, "mark": {"type": "text", "align": "left", "baseline": "middle", "font": "Open Sans", "fontSize": 15, "color": "#222"}, "encoding": {
    "x": {"datum": 76, "type": "quantitative", "axis": null}, "y": {"datum": -39, "type": "quantitative", "axis": null}, "text": {"field": "t"}}}
 ], "resolve": {"axis": {"x": "independent", "y": "independent"}}},
 {"width": 300, "height": 235, "data": {"name": "h"}, "layer": [
  {"mark": {"type": "line", "stroke": "#5a5af5", "strokeWidth": 0.9, "strokeDash": [1, 1.5]}, "encoding": {
    "x": {"field": "v", "type": "quantitative", "scale": {"domain": [0, 1000], "nice": false, "zero": false}, "axis": {"orient": "bottom", "values": [0,100,200,300,400,500,600,700,800,900,1000], "labelExpr": "'' + datum.value", "title": null}},
    "y": {"field": "d", "type": "quantitative", "scale": {"domain": [-500, 0], "nice": false, "zero": false}, "axis": {"orient": "left", "values": [0,-50,-100,-150,-200,-250,-300,-350,-400,-450,-500], "labels": false, "title": null}},
    "order": {"field": "d", "sort": "descending"}}},
  {"transform": [{"filter": "datum.o == 1"}], "mark": {"type": "point", "shape": "circle", "filled": false, "stroke": "#262626", "strokeWidth": 1.05, "size": 34, "opacity": 1}, "encoding": {
    "x": {"field": "v", "type": "quantitative", "axis": {"orient": "top", "values": [0,100,200,300,400,500,600,700,800,900,1000], "labels": false, "title": null}},
    "y": {"field": "d", "type": "quantitative", "axis": {"orient": "right", "values": [0,-50,-100,-150,-200,-250,-300,-350,-400,-450,-500], "labels": false, "title": null}}}},
  {"data": {"values": [{"t": "h) Inflow: 430 m"}]}, "mark": {"type": "text", "align": "left", "baseline": "middle", "font": "Open Sans", "fontSize": 15, "color": "#222"}, "encoding": {
    "x": {"datum": 77, "type": "quantitative", "axis": null}, "y": {"datum": -39, "type": "quantitative", "axis": null}, "text": {"field": "t"}}}
 ], "resolve": {"axis": {"x": "independent", "y": "independent"}}}
]}
]
}
